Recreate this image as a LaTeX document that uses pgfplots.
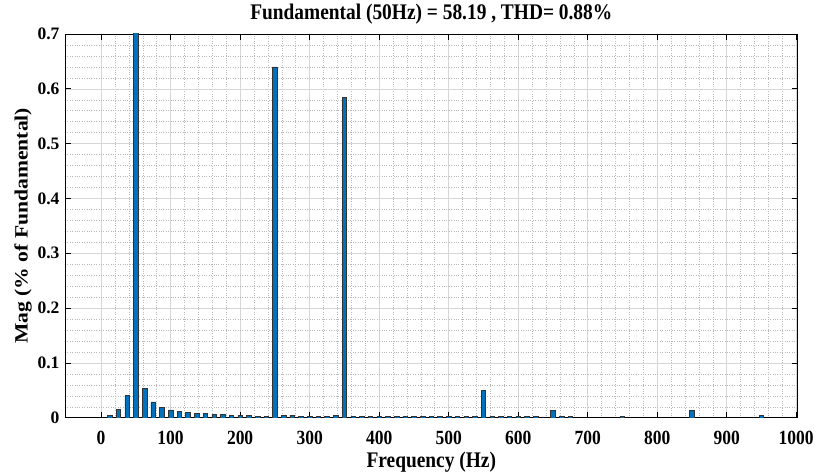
\documentclass[border=0pt]{standalone}
\usepackage{pgfplots}
\pgfplotsset{compat=1.18}
\usepackage{fontspec}
\setmainfont{Liberation Serif}
\usetikzlibrary{calc}
\definecolor{mblue}{RGB}{0,114,189}
\pgfplotstableread{
f v
12.5 0.005
25 0.016
37.5 0.041
50 1.0
62.5 0.053
75 0.029
87.5 0.0195
100 0.0146
112.5 0.012
125 0.0104
137.5 0.0085
150 0.0085
162.5 0.0067
175 0.0067
187.5 0.005
200 0.005
212.5 0.005
225 0.003
237.5 0.003
250 0.640
262.5 0.005
275 0.005
287.5 0.003
300 0.003
312.5 0.003
325 0.003
337.5 0.005
350 0.585
362.5 0.003
375 0.003
387.5 0.003
400 0.003
412.5 0.003
425 0.003
437.5 0.003
450 0.003
462.5 0.003
475 0.003
487.5 0.003
500 0.003
512.5 0.003
525 0.003
537.5 0.003
550 0.050
562.5 0.003
575 0.003
587.5 0.003
600 0.003
612.5 0.003
625 0.003
650 0.014
662.5 0.003
675 0.003
750 0.0025
850 0.014
950 0.005
}\harm
\begin{document}
\begin{tikzpicture}
\begin{axis}[
  scale only axis, width=733pt, height=384pt,
  xmin=-52, xmax=1002, ymin=0, ymax=0.7,
  xtick={0,100,...,1000},
  ytick={0,0.1,0.2,0.3,0.4,0.5,0.6,0.7},
  yticklabels={0,0.1,0.2,0.3,0.4,0.5,0.6,0.7},
  xticklabel={\scalebox{1}[1.15]{\pgfmathprintnumber[1000 sep={}]{\tick}}},
  minor x tick num=4, minor y tick num=4,
  grid=both,
  major grid style={black!16, line width=0.6pt},
  minor grid style={black!28, dotted, line width=0.5pt},
  tick align=inside, xtick pos=both, ytick pos=both,
  major tick length=6pt, minor tick length=0pt,
  axis line style={black, line width=0.8pt},
  every tick/.style={black, line width=0.8pt},
  /pgf/number format/assume math mode=true,
  /pgf/number format/1000 sep={},
  tick label style={font=\bfseries\fontsize{17.5}{20}\selectfont},
  xticklabel style={yshift=-10pt},
  yticklabel style={xshift=-2pt},
  title={\bfseries\fontsize{19.4}{22}\selectfont\scalebox{1}[1.15]{Fundamental (50Hz) = 58.19 , THD= 0.88\%}},
  title style={yshift=0pt},
  xlabel={\bfseries\fontsize{19.4}{22}\selectfont\scalebox{1}[1.15]{Frequency (Hz)}},
  ylabel={\bfseries\fontsize{18.8}{21}\selectfont\scalebox{1.15}[1]{Mag (\% of Fundamental)}},
  xlabel style={yshift=0pt},
  ylabel style={yshift=-1pt},
  clip=true,
]
\addplot[ybar, bar width=6.5, fill=mblue, draw=black!80, line width=0.5pt] table[x=f, y=v] {\harm};
\end{axis}
\path ($(current axis.south west)+(-65pt,-57pt)$) rectangle ($(current axis.north east)+(19pt,34pt)$);
\end{tikzpicture}
\end{document}
